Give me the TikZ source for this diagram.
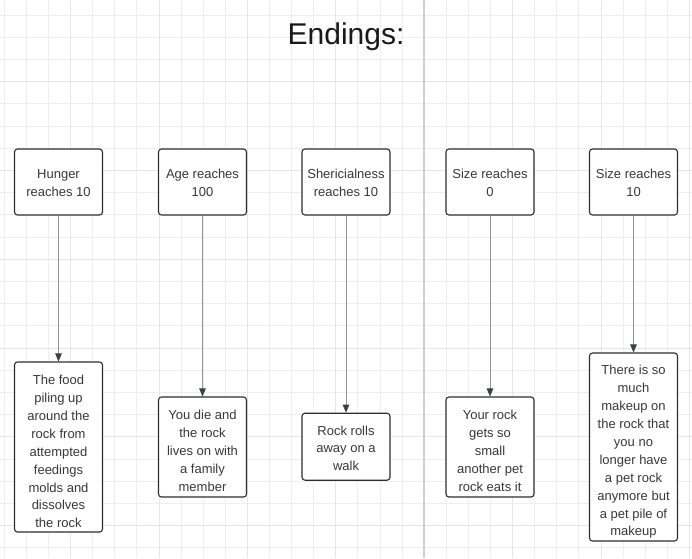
\documentclass[tikz,border=0pt]{standalone}
\usepackage{fontspec}
\setmainfont{Liberation Sans}
\usetikzlibrary{arrows.meta}
\definecolor{minorc}{HTML}{EEEEEE}
\definecolor{majorc}{HTML}{E6E6E6}
\definecolor{sepc}{HTML}{CFCFCF}
\definecolor{boxc}{HTML}{2E2E2E}
\definecolor{textc}{HTML}{383838}
\definecolor{linec}{HTML}{8E9299}
\definecolor{tipc}{HTML}{3A3F48}
\newcommand{\liftby}[1]{\rule{0pt}{#1}}
\tikzset{
  minorline/.style={draw=minorc, line width=1pt},
  majorline/.style={draw=majorc, line width=1pt},
  sepline/.style={draw=sepc, line width=1.4pt},
  box/.style={draw=boxc, line width=1.1pt, rounded corners=3pt, fill=white,
    minimum width=88pt, inner sep=0pt, align=center, text=textc,
    font=\fontsize{13}{17.9}\selectfont},
  conn/.style={draw=linec, line width=0.8pt,
    -{Triangle[length=8pt,width=6.5pt,color=tipc]}},
  titletext/.style={font=\fontsize{30}{36}\selectfont, text=black!90}
}
\begin{document}
\begin{tikzpicture}[x=1pt,y=-1pt]
\useasboundingbox (0,0) rectangle (692,558);
\fill[white] (0,0) rectangle (692,558);
% grid
\foreach \i in {0,...,31} {
  \draw[minorline] ({4.3+22.1*\i},0) -- ({4.3+22.1*\i},558);
}
\foreach \j in {0,...,25} {
  \draw[minorline] (0,{15+22.2*\j}) -- (692,{15+22.2*\j});
}
\foreach \i in {0,...,7} {
  \draw[majorline] ({70.6+88.4*\i},0) -- ({70.6+88.4*\i},558);
}
\foreach \j in {0,...,6} {
  \draw[majorline] (0,{81.6+88.8*\j}) -- (692,{81.6+88.8*\j});
}
\draw[sepline] (424,0) -- (424,558);
% title
\node[titletext] (title) at (346,37) {Endings:};
% top boxes
\node[box, minimum height=66pt] (t1) at (58.5,182) {\liftby{11.5pt}Hunger\\reaches 10};
\node[box, minimum height=66pt] (t2) at (202.5,182) {\liftby{11.5pt}Age reaches\\100};
\node[box, minimum height=66pt] (t3) at (346,182) {\liftby{11.5pt}Shericialness\\reaches 10};
\node[box, minimum height=66pt] (t4) at (490,182) {\liftby{11.5pt}Size reaches\\0};
\node[box, minimum height=66pt] (t5) at (633.5,182) {\liftby{11.5pt}Size reaches\\10};
% bottom boxes
\node[box, minimum height=170pt] (b1) at (58.5,447) {\liftby{18.5pt}The food\\piling up\\around the\\rock from\\attempted\\feedings\\molds and\\dissolves\\the rock};
\node[box, minimum height=100pt] (b2) at (202.5,447) {\liftby{16.5pt}You die and\\the rock\\lives on with\\a family\\member};
\node[box, minimum height=67pt] (b3) at (346,446.7) {\liftby{12.5pt}Rock rolls\\away on a\\walk};
\node[box, minimum height=100pt] (b4) at (490,447) {\liftby{16.5pt}Your rock\\gets so\\small\\another pet\\rock eats it};
\node[box, minimum height=188pt] (b5) at (633.5,447) {\liftby{19.5pt}There is so\\much\\makeup on\\the rock that\\you no\\longer have\\a pet rock\\anymore but\\a pet pile of\\makeup};
% connectors
\draw[conn] (t1) -- (b1);
\draw[conn] (t2) -- (b2);
\draw[conn] (t3) -- (b3);
\draw[conn] (t4) -- (b4);
\draw[conn] (t5) -- (b5);
\end{tikzpicture}
\end{document}
